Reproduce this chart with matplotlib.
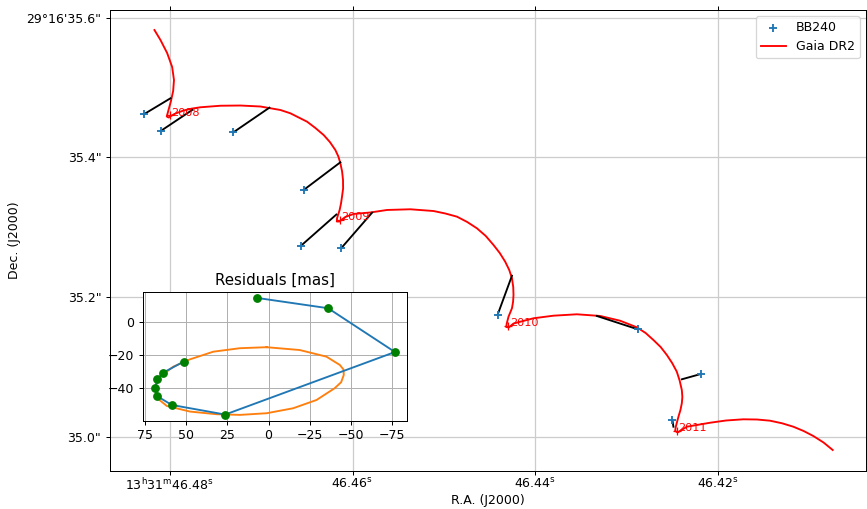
import matplotlib
matplotlib.use("Agg")
import matplotlib.pyplot as plt
from matplotlib.ticker import FixedLocator, FixedFormatter

# Gaia DR2 predicted track (RA in s past 13h31m, Dec in arcsec past 29d16')
gaia_ra = [46.48170, 46.48104, 46.48031, 46.47976, 46.47956, 46.47965, 46.47989,
           46.48016, 46.48035, 46.48016, 46.47951, 46.47852, 46.47765, 46.47666,
           46.47447, 46.47228, 46.47009, 46.46790, 46.46681, 46.46498, 46.46407,
           46.46316, 46.46248, 46.46188, 46.46155, 46.46133, 46.46114, 46.46104,
           46.46103, 46.46115, 46.46126, 46.46141, 46.46169, 46.46172, 46.46144,
           46.46079, 46.45988, 46.45805, 46.45622, 46.45367, 46.45112, 46.44984,
           46.44855, 46.44743, 46.44637, 46.44540, 46.44455, 46.44387, 46.44327,
           46.44283, 46.44253, 46.44239, 46.44236, 46.44241, 46.44253, 46.44291,
           46.44310, 46.44316, 46.44288, 46.44236, 46.44017, 46.43798, 46.43542,
           46.43287, 46.43068, 46.42885, 46.42788, 46.42703, 46.42624, 46.42556,
           46.42498, 46.42447, 46.42416, 46.42392, 46.42386, 46.42392, 46.42407,
           46.42429, 46.42458, 46.42465, 46.42438, 46.42337, 46.42082, 46.41907,
           46.41718, 46.41568, 46.41425, 46.41294, 46.41170, 46.41058, 46.40951,
           46.40839, 46.40739]
gaia_dec = [35.5821, 35.5678, 35.5492, 35.5292, 35.5106, 35.4949, 35.4806,
            35.4677, 35.4584, 35.4570, 35.4620, 35.4670, 35.4696, 35.4716,
            35.4738, 35.4741, 35.4727, 35.4677, 35.4630, 35.4510, 35.4420,
            35.4319, 35.4219, 35.4105, 35.4012, 35.3915, 35.3797, 35.3676,
            35.3554, 35.3437, 35.3340, 35.3247, 35.3132, 35.3082, 35.3082,
            35.3147, 35.3190, 35.3211, 35.3247, 35.3257, 35.3232, 35.3197,
            35.3151, 35.3075, 35.2985, 35.2875, 35.2746, 35.2632, 35.2507,
            35.2389, 35.2270, 35.2145, 35.2031, 35.1931, 35.1841, 35.1720,
            35.1623, 35.1573, 35.1566, 35.1623, 35.1698, 35.1735, 35.1755,
            35.1731, 35.1663, 35.1569, 35.1487, 35.1387, 35.1287, 35.1173,
            35.1058, 35.0934, 35.0808, 35.0672, 35.0572, 35.0482, 35.0386,
            35.0290, 35.0147, 35.0086, 35.0064, 35.0147, 35.0204, 35.0236,
            35.0253, 35.0250, 35.0233, 35.0196, 35.0147, 35.0086, 35.0014,
            34.9921, 34.9814]

# BB240 measured positions
bb_ra = [46.48287, 46.48101, 46.47305, 46.46535, 46.46564, 46.46122,
         46.44411, 46.42874, 46.42184, 46.42495]
bb_dec = [35.4615, 35.4377, 35.4358, 35.3533, 35.2736, 35.2703,
          35.1745, 35.1540, 35.0901, 35.0239]

# Gaia prediction at the BB240 epochs
pred_ra = [46.47995, 46.47757, 46.46911, 46.46133, 46.46177, 46.45786,
           46.44253, 46.43323, 46.42392, 46.42484]
pred_dec = [35.4844, 35.4677, 35.4710, 35.3929, 35.3182, 35.3208,
            35.2307, 35.1731, 35.0825, 35.0147]

# year marks on the track
years = ["2008", "2009", "2010", "2011"]
year_ra = [46.48002, 46.46141, 46.44291, 46.42440]
year_dec = [35.4605, 35.3104, 35.1592, 35.0090]

# residuals inset [mas]
res_x = [6.9, -36.1, -76.6, 26.3, 58.7, 67.4, 68.8, 67.4, 63.8, 51.5]
res_y = [14.5, 8.3, -18.1, -55.8, -50.0, -44.8, -39.8, -34.5, -30.5, -23.9]
ell_x = [1.2, 17.4, 33.5, 47.6, 57.7, 65.8, 68.8, 67.4, 61.7, 47.6, 31.5,
         17.4, 1.2, -14.9, -29.1, -40.1, -44.0, -45.6, -45.4, -43.2, -35.1,
         -18.9, 1.2]
ell_y = [-15.2, -15.8, -17.9, -22.5, -26.9, -33.0, -39.3, -46.0, -50.6,
         -54.0, -55.6, -56.0, -55.0, -52.0, -47.0, -39.9, -36.3, -31.9,
         -28.6, -25.9, -20.9, -16.9, -15.2]

ra_ticks = [46.48, 46.46, 46.44, 46.42]
ra_labels = [r"$13^\mathrm{h}31^\mathrm{m}46.48^\mathrm{s}$", r"$46.46^\mathrm{s}$",
             r"$46.44^\mathrm{s}$", r"$46.42^\mathrm{s}$"]
dec_ticks = [35.6, 35.4, 35.2, 35.0]
dec_labels = ["29°16'35.6\"", "35.4\"", "35.2\"", "35.0\""]

fig = plt.figure(figsize=(867 / 90, 509 / 90), dpi=90)
ax = fig.add_axes([110 / 867, 1 - 470.7 / 509, 756 / 867, 460.7 / 509])

gaia_line, = ax.plot(gaia_ra, gaia_dec, color="red", lw=1.5, label="Gaia DR2", zorder=2)
for i in range(len(bb_ra)):
    ax.plot([bb_ra[i], pred_ra[i]], [bb_dec[i], pred_dec[i]], color="k", lw=1.5, zorder=3)
bb_pts = ax.scatter(bb_ra, bb_dec, marker="+", color="tab:blue", label="BB240", zorder=4)
ax.plot(year_ra, year_dec, "+", color="red", ms=7, zorder=3)
for y, xr, yd in zip(years, year_ra, year_dec):
    ax.annotate(y, (xr, yd), xytext=(1, 2), textcoords="offset points",
                color="red", ha="left", va="center", fontsize=9)

ax.set_xlim(46.48657, 46.40374)
ax.set_ylim(34.95178, 35.61073)
ax.xaxis.set_major_locator(FixedLocator(ra_ticks))
ax.xaxis.set_major_formatter(FixedFormatter(ra_labels))
ax.yaxis.set_major_locator(FixedLocator(dec_ticks))
ax.yaxis.set_major_formatter(FixedFormatter(dec_labels))
ax.tick_params(top=True, right=True, direction="out")
ax.tick_params(axis="x", pad=1.5)
ax.grid(True, color="0.8", lw=1)
ax.set_xlabel("R.A. (J2000)", labelpad=1)
ax.set_ylabel("Dec. (J2000)")
ax.legend(handles=[bb_pts, gaia_line], loc="upper right")

# inset with residuals
ins = fig.add_axes([142.7 / 867, 1 - 420.7 / 509, 264.6 / 867, 128.4 / 509])
ins.plot(ell_x, ell_y, color="tab:orange", lw=1.5)
ins.plot(res_x, res_y, color="tab:blue", lw=1.5)
ins.plot(res_x, res_y, "o", color="green", ms=6)
ins.set_xlim(76.3, -84.1)
ins.set_ylim(-59.5, 17.9)
ins.set_xticks([75, 50, 25, 0, -25, -50, -75])
ins.set_yticks([0, -20, -40])
ins.grid(True)
ins.set_title("Residuals [mas]")

fig.savefig("out.png", dpi=90)
